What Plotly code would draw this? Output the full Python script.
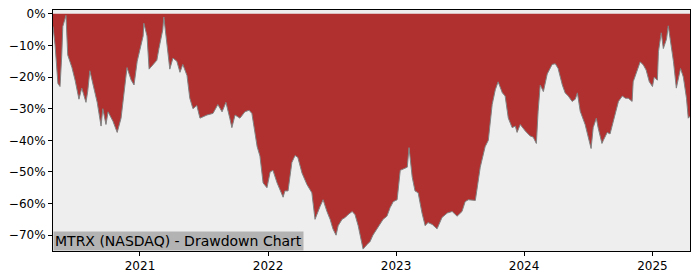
import plotly.graph_objects as go

dates = [
    "2020-04-28", "2020-05-04", "2020-05-12", "2020-05-18", "2020-05-23", "2020-05-26",
    "2020-06-04", "2020-06-09", "2020-06-21", "2020-06-30", "2020-07-11", "2020-07-19",
    "2020-07-31", "2020-08-05", "2020-08-11", "2020-08-20", "2020-09-01", "2020-09-12",
    "2020-09-17", "2020-09-26", "2020-10-02", "2020-10-16", "2020-10-28", "2020-11-08",
    "2020-11-20", "2020-11-25", "2020-12-07", "2020-12-15", "2020-12-24",
    "2021-01-01", "2021-01-10", "2021-01-12", "2021-01-21", "2021-01-27", "2021-02-07",
    "2021-02-18", "2021-02-24", "2021-03-07", "2021-03-10", "2021-03-19", "2021-03-27",
    "2021-04-05", "2021-04-16", "2021-04-25", "2021-05-03", "2021-05-15", "2021-05-23",
    "2021-06-01", "2021-06-12", "2021-06-21", "2021-07-11", "2021-07-28", "2021-08-11",
    "2021-08-23", "2021-09-03", "2021-09-14", "2021-09-20", "2021-09-29", "2021-10-13",
    "2021-10-27", "2021-11-08", "2021-11-16", "2021-11-25", "2021-12-01", "2021-12-09",
    "2021-12-18", "2021-12-29",
    "2022-01-07", "2022-01-15", "2022-01-27", "2022-02-13", "2022-02-18", "2022-02-27",
    "2022-03-10", "2022-03-19", "2022-03-27", "2022-04-08", "2022-04-22", "2022-05-06",
    "2022-05-15", "2022-05-29", "2022-06-07", "2022-06-18", "2022-06-27", "2022-07-05",
    "2022-07-14", "2022-07-20", "2022-07-31", "2022-08-09", "2022-08-17", "2022-08-29",
    "2022-09-06", "2022-09-15", "2022-09-26", "2022-09-29", "2022-10-10", "2022-10-19",
    "2022-10-27", "2022-11-08", "2022-11-16", "2022-11-25", "2022-12-06", "2022-12-15",
    "2022-12-24",
    "2023-01-04", "2023-01-13", "2023-01-21", "2023-02-02", "2023-02-07", "2023-02-16",
    "2023-02-24", "2023-03-05", "2023-03-16", "2023-03-25", "2023-04-02", "2023-04-14",
    "2023-04-28", "2023-05-12", "2023-05-27", "2023-06-10", "2023-06-24", "2023-07-08",
    "2023-07-17", "2023-07-26", "2023-08-15", "2023-08-20", "2023-08-29", "2023-09-12",
    "2023-09-21", "2023-10-02", "2023-10-11", "2023-10-19", "2023-10-31", "2023-11-08",
    "2023-11-17", "2023-11-28", "2023-12-07", "2023-12-12", "2023-12-21",
    "2024-01-04", "2024-01-18", "2024-01-27", "2024-02-05", "2024-02-10", "2024-02-16",
    "2024-02-25", "2024-03-07", "2024-03-21", "2024-03-30", "2024-04-07", "2024-04-19",
    "2024-04-27", "2024-05-06", "2024-05-17", "2024-05-26", "2024-06-01", "2024-06-09",
    "2024-06-23", "2024-07-02", "2024-07-10", "2024-07-16", "2024-07-25", "2024-07-30",
    "2024-08-10", "2024-08-14", "2024-08-25", "2024-09-02", "2024-09-14", "2024-09-26",
    "2024-10-07", "2024-10-16", "2024-10-24", "2024-11-04", "2024-11-07", "2024-11-16",
    "2024-11-27", "2024-12-06", "2024-12-14", "2024-12-23",
    "2025-01-01", "2025-01-06", "2025-01-15", "2025-01-18", "2025-01-26", "2025-02-01",
    "2025-02-10", "2025-02-15", "2025-02-24", "2025-03-02", "2025-03-10", "2025-03-16",
    "2025-03-22", "2025-03-30", "2025-04-08", "2025-04-13", "2025-04-18",
]

drawdown_pct = [
    -4, -10, -22, -23, -13, -4,
    -0.5, -13, -17, -21, -27, -23.5,
    -28, -24.5, -18, -22.5, -28, -35.5,
    -30, -35, -31, -34, -37.5, -33,
    -20.5, -17, -21, -22.5, -15,
    -11, -7, -3, -7, -17.5, -16,
    -14.7, -11, -5, -1, -10, -17.5,
    -14, -15, -18.5, -16, -19.5, -26.7,
    -30, -29, -33, -32, -31.5, -28.7,
    -31, -28, -33, -36, -32, -33,
    -31, -30.5, -31.5, -37, -42, -45,
    -53.5, -55,
    -50, -49.5, -53.5, -58, -56, -56,
    -47, -44.8, -45.4, -50.4, -54, -56.6,
    -65, -61, -58.8, -62.5, -65, -68,
    -70, -67, -65, -64.4, -63.5, -62.5,
    -63.5, -67, -73.4, -74.4, -73, -72,
    -70, -68, -66.6, -65, -64, -61.3,
    -59.4,
    -58.8, -49.5, -49, -48.5, -42.3, -51.6,
    -56, -56.6, -63, -67, -66, -66.6,
    -68, -64.4, -63, -62.5, -64, -62.5,
    -59.4, -58.8, -59, -55.7, -48.5, -42,
    -40, -28.7, -24, -21.5, -25, -26,
    -33, -36, -35.5, -37.5, -35,
    -37, -38.6, -39, -41, -30.8, -22.5,
    -24.6, -19, -16, -15.8, -17.3, -22.5,
    -25, -26, -27.7, -27, -25, -30.8,
    -35, -39, -42.6, -36, -33, -36,
    -41, -40, -37.5, -38, -32.4, -27.7,
    -26, -26.7, -26.7, -27.7, -21.5, -18.4,
    -15.2, -16.2, -17.8, -21.5,
    -23, -20, -21, -12, -6, -11,
    -8, -3.8, -10, -15.2, -23.5, -20.5,
    -17.3, -20, -26.7, -33, -32.4,
]

year_ticks = ["2021-01-01", "2022-01-01", "2023-01-01", "2024-01-01", "2025-01-01"]
year_labels = ["2021", "2022", "2023", "2024", "2025"]
pct_ticks = [0, -10, -20, -30, -40, -50, -60, -70]
pct_labels = ["0%", "\u221210%", "\u221220%", "\u221230%", "\u221240%",
              "\u221250%", "\u221260%", "\u221270%"]
title_text = "MTRX (NASDAQ) - Drawdown Chart"

fig = go.Figure()
fig.add_trace(go.Scatter(
    x=dates, y=drawdown_pct, mode="lines", fill="tozeroy",
    fillcolor="rgb(176,48,48)",
    line=dict(color="rgb(130,130,130)", width=1),
    hoverinfo="skip", showlegend=False,
))

fig.update_layout(
    width=700, height=280,
    margin=dict(l=53, r=10, t=7, b=28),
    paper_bgcolor="white",
    plot_bgcolor="rgb(238,238,238)",
    font=dict(family="DejaVu Sans", size=12, color="black"),
    showlegend=False,
)
fig.update_xaxes(
    range=["2020-04-28", "2025-04-18"],
    tickmode="array", tickvals=year_ticks, ticktext=year_labels,
    showgrid=False, zeroline=False,
    showline=True, linecolor="black", linewidth=1, mirror=True,
    ticks="outside", ticklen=4, tickcolor="black",
)
fig.update_yaxes(
    range=[-75.0, 1.2],
    tickmode="array", tickvals=pct_ticks, ticktext=pct_labels,
    showgrid=False, zeroline=False,
    showline=True, linecolor="black", linewidth=1, mirror=True,
    ticks="outside", ticklen=4, tickcolor="black",
)
fig.add_annotation(
    text=title_text, xref="paper", yref="paper", x=0, y=0,
    xanchor="left", yanchor="bottom", showarrow=False,
    font=dict(family="DejaVu Sans", size=14, color="black"),
    bgcolor="rgb(179,179,179)", borderpad=1,
)

fig.write_html("out.html")
